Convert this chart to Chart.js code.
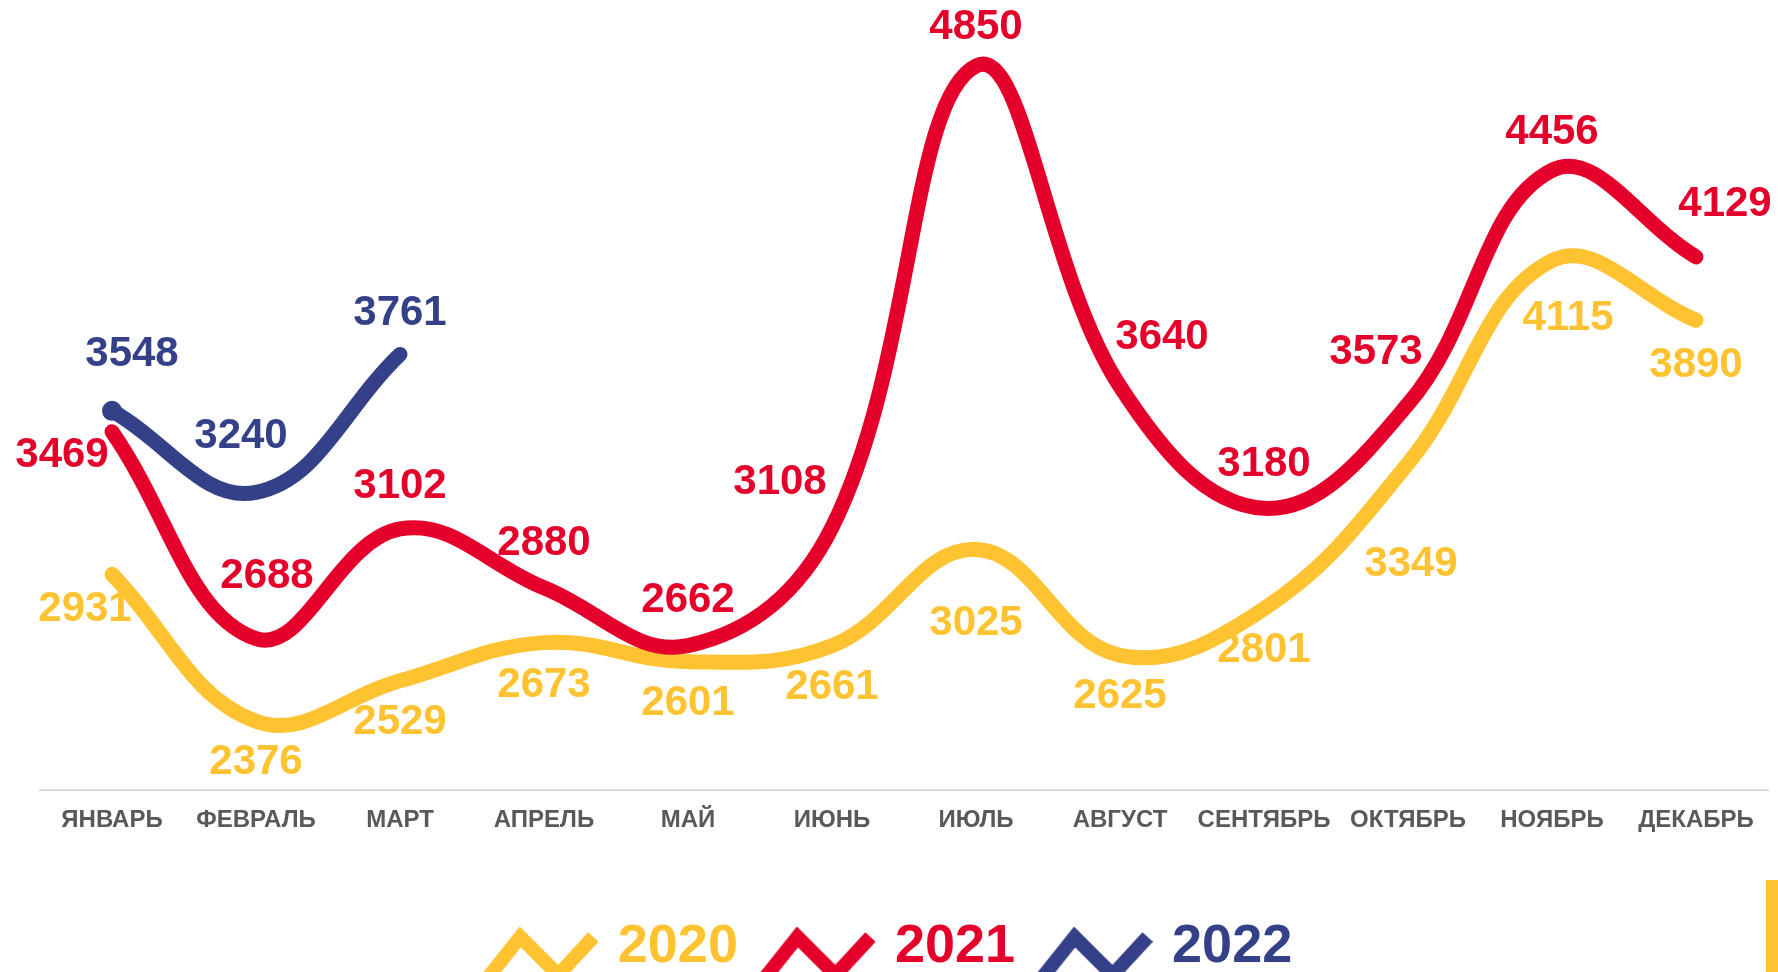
<!DOCTYPE html>
<html lang="ru">
<head>
<meta charset="utf-8">
<title>2020 – 2022</title>
<script src="https://cdn.jsdelivr.net/npm/chart.js@4/dist/chart.umd.min.js"></script>
<style>
  html, body { margin: 0; padding: 0; background: #fff; overflow: hidden; }
  #wrap { position: relative; width: 1778px; height: 984px; }
  #corner { position: absolute; right: 0; top: 880px; width: 12px; height: 100px; background: #FFC331; }
</style>
</head>
<body>
<div id="wrap">
  <canvas id="yearsChart"></canvas>
  <div id="corner"></div>
</div>
<script>
const months = ['ЯНВАРЬ', 'ФЕВРАЛЬ', 'МАРТ', 'АПРЕЛЬ', 'МАЙ', 'ИЮНЬ', 'ИЮЛЬ', 'АВГУСТ', 'СЕНТЯБРЬ', 'ОКТЯБРЬ', 'НОЯБРЬ', 'ДЕКАБРЬ']
const years = ['2020', '2021', '2022']
const values2020 = [2931, 2376, 2529, 2673, 2601, 2661, 3025, 2625, 2801, 3349, 4115, 3890]
const values2021 = [3469, 2688, 3102, 2880, 2662, 3108, 4850, 3640, 3180, 3573, 4456, 4129]
const values2022 = [3548, 3240, 3761]

const colors = ['#FFC331', '#E4002B', '#344189']
const fontFamily = '"Liberation Sans", Arial, sans-serif'

// where each value label sits relative to its point (px)
const offsets2020 = [[-27, 35], [0, 41], [0, 42], [0, 43], [0, 42], [0, 42], [0, 74], [0, 41], [0, 42], [3, 101], [16, 58], [0, 45]]
const offsets2021 = [[-50, 24], [11, -62], [0, -43], [0, -44], [0, -45], [-52, -45], [0, -38], [42, -49], [0, -44], [-32, -52], [0, -38], [29, -52]]
const offsets2022 = [[20, -56], [-15, -56], [0, -41]]

// zigzag picture used as legend marker
const makeIcon = (color) => {
  const c = document.createElement('canvas')
  c.width = 116
  c.height = 64
  const g = c.getContext('2d')
  g.strokeStyle = color
  g.lineWidth = 14
  g.lineJoin = 'miter'
  g.beginPath()
  g.moveTo(6, 62)
  g.lineTo(38, 22)
  g.lineTo(76, 60)
  g.lineTo(111, 22)
  g.stroke()
  return c
}
const icons = colors.map(makeIcon)

// draws the value next to every point
const pointLabels = {
  id: 'pointLabels',
  afterDatasetsDraw(chart) {
    const ctx = chart.ctx
    ctx.save()
    ctx.font = `bold 42px ${fontFamily}`
    ctx.textAlign = 'center'
    ctx.textBaseline = 'middle'
    chart.data.datasets.forEach((ds, i) => {
      const meta = chart.getDatasetMeta(i)
      ctx.fillStyle = ds.borderColor
      meta.data.forEach((pt, j) => {
        const [dx, dy] = ds.labelOffsets[j]
        ctx.fillText(ds.data[j], pt.x + dx, pt.y + dy)
      })
    })
    ctx.restore()
  }
}

// legend sits a bit left of the plot centre in the original
const legendShift = {
  id: 'legendShift',
  afterLayout(chart) {
    chart.legend.left -= 14
    chart.legend.right -= 14
  }
}

const lineStyle = (i) => ({
  borderColor: colors[i],
  backgroundColor: colors[i],
  borderWidth: 15,
  borderCapStyle: 'round',
  borderJoinStyle: 'round',
  tension: 0.4,
  pointRadius: 0,
  pointBorderWidth: 0,
  fill: false
})

new Chart(document.getElementById('yearsChart'), {
  type: 'line',
  data: {
    labels: months,
    datasets: [
      { label: years[0], data: values2020, labelOffsets: offsets2020, order: 3, ...lineStyle(0) },
      { label: years[1], data: values2021, labelOffsets: offsets2021, order: 2, ...lineStyle(1) },
      { label: years[2], data: values2022, labelOffsets: offsets2022, order: 1, ...lineStyle(2), pointRadius: [10, 0, 0] }
    ]
  },
  options: {
    responsive: true,
    maintainAspectRatio: false,
    animation: false,
    layout: { padding: { left: 40, right: 8, top: 0, bottom: 0 } },
    scales: {
      x: {
        offset: true,
        grid: { display: false },
        border: { display: true, color: '#D9D9D9', width: 2 },
        ticks: {
          color: '#595959',
          padding: 8,
          maxRotation: 0,
          autoSkip: false,
          font: { family: fontFamily, size: 24, weight: 'bold' }
        },
        afterFit: (scale) => { scale.height += 48 }
      },
      y: {
        display: false,
        min: 2116,
        max: 5061
      }
    },
    plugins: {
      tooltip: { enabled: false },
      legend: {
        position: 'bottom',
        labels: {
          usePointStyle: true,
          pointStyleWidth: 101,
          padding: 29,
          font: { family: fontFamily, size: 54, weight: 'bold' },
          sort: (a, b) => a.datasetIndex - b.datasetIndex,
          generateLabels: (chart) => {
            const items = Chart.defaults.plugins.legend.labels.generateLabels(chart)
            items.forEach((item) => {
              item.pointStyle = icons[item.datasetIndex]
              item.fontColor = colors[item.datasetIndex]
            })
            return items
          }
        }
      }
    }
  },
  plugins: [pointLabels, legendShift]
})
</script>
</body>
</html>
